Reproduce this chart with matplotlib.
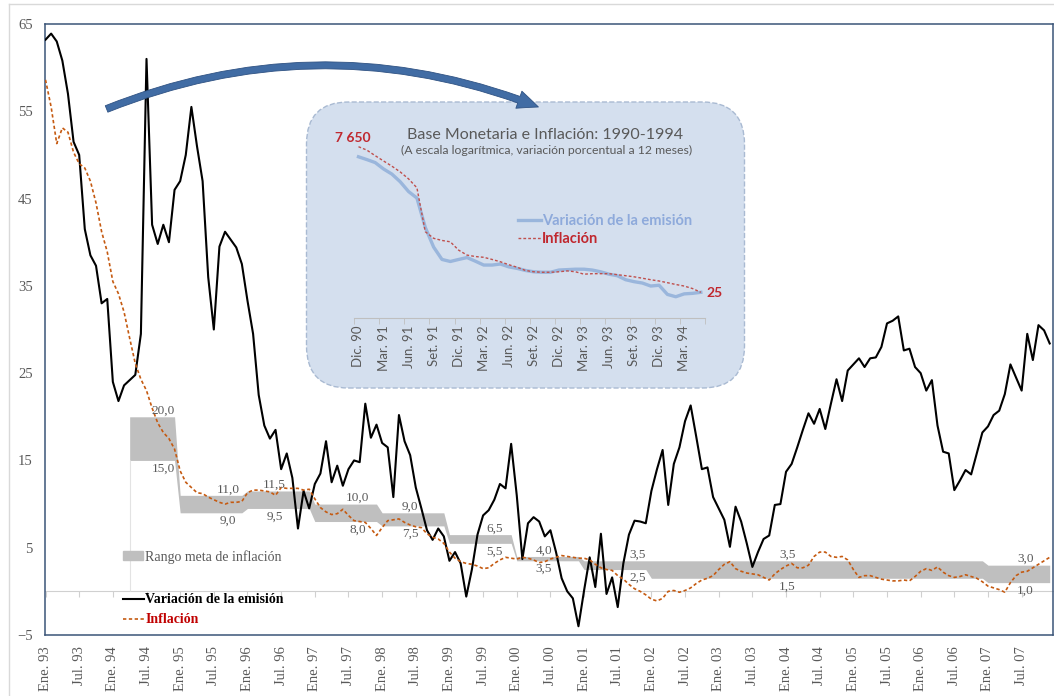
import numpy as np
import matplotlib.pyplot as plt
from matplotlib.patches import FancyBboxPatch, FancyArrowPatch, Patch
from matplotlib.lines import Line2D

plt.rcParams['font.family'] = ['Liberation Serif', 'DejaVu Serif']

# variacion de la emision (%), mensual desde ene. 93
emision = [63.2, 63.9, 63.0, 60.8, 57.0, 51.5, 50.0, 41.5, 38.5, 37.3, 33.0, 33.5,
           24.0, 21.8, 23.6, 24.2, 24.8, 29.5, 61.0, 42.0, 39.8, 42.0, 40.0, 46.0,
           47.0, 50.0, 55.5, 51.0, 47.0, 36.0, 30.0, 39.5, 41.2, 40.3, 39.4, 37.5,
           33.3, 29.5, 22.5, 19.0, 17.5, 18.5, 14.0, 15.8, 13.0, 7.2, 11.5, 9.5,
           12.3, 13.5, 17.2, 12.5, 14.4, 12.1, 14.0, 15.0, 14.8, 21.5, 17.6, 19.1,
           17.0, 16.5, 10.8, 20.2, 17.2, 15.6, 11.9, 9.5, 7.0, 5.9, 7.2, 6.3,
           3.5, 4.5, 3.2, -0.6, 2.5, 6.5, 8.7, 9.3, 10.5, 12.3, 11.8, 16.9,
           11.0, 3.7, 7.8, 8.5, 8.0, 6.3, 7.0, 4.5, 1.5, 0.0, -0.8, -4.0,
           0.1, 3.9, 0.5, 6.6, -0.3, 1.6, -1.8, 3.2, 6.5, 8.1, 8.0, 7.8,
           11.5, 14.0, 16.2, 9.9, 14.6, 16.5, 19.5, 21.3, 17.7, 14.0, 14.2, 10.8,
           9.5, 8.2, 5.1, 9.7, 8.0, 5.5, 2.8, 4.5, 6.0, 6.4, 9.9, 10.0,
           13.7, 14.6, 16.5, 18.5, 20.4, 19.2, 20.9, 18.6, 21.5, 24.3, 21.8, 25.3,
           26.0, 26.7, 25.7, 26.7, 26.8, 28.0, 30.7, 31.0, 31.5, 27.6, 27.8, 25.7,
           25.0, 23.0, 24.2, 19.0, 16.0, 15.8, 11.6, 12.7, 13.9, 13.4, 15.8, 18.2,
           18.9, 20.2, 20.7, 22.6, 26.0, 24.5, 23.0, 29.5, 26.5, 30.5, 29.9, 28.4]

# inflacion (%), mensual desde ene. 93
inflacion = [58.6, 55.5, 51.3, 53.1, 52.6, 50.3, 49.0, 48.5, 47.0, 44.5, 41.2, 38.9,
             35.5, 34.1, 32.0, 29.0, 26.1, 24.3, 23.0, 21.0, 19.3, 18.2, 17.5, 16.3,
             13.8, 12.5, 11.9, 11.3, 11.2, 10.8, 10.5, 10.2, 10.0, 10.2, 10.2, 10.3,
             11.3, 11.6, 11.6, 11.5, 11.4, 11.0, 11.9, 11.8, 11.8, 11.8, 11.6, 11.7,
             10.6, 9.6, 9.1, 8.8, 8.9, 9.4, 8.7, 8.1, 8.0, 7.9, 7.2, 6.4,
             7.3, 8.1, 8.2, 8.3, 7.9, 7.6, 7.4, 7.3, 6.6, 6.2, 6.0, 5.5,
             4.5, 3.8, 3.4, 3.2, 3.1, 2.9, 2.6, 2.7, 3.2, 3.6, 3.9, 3.8,
             3.7, 3.9, 3.8, 3.6, 3.3, 3.4, 3.7, 3.9, 4.1, 4.0, 3.9, 3.8,
             3.8, 3.6, 3.1, 2.7, 2.5, 2.4, 1.8, 1.4, 0.8, 0.3, 0.0, -0.4,
             -0.9, -1.1, -0.8, 0.0, 0.1, -0.1, 0.1, 0.4, 0.9, 1.3, 1.5, 1.8,
             2.5, 3.1, 3.4, 2.6, 2.3, 2.1, 2.0, 1.9, 1.6, 1.3, 2.0, 2.5,
             2.9, 3.2, 2.7, 2.7, 3.0, 4.0, 4.5, 4.5, 4.0, 3.9, 4.0, 3.6,
             2.5, 1.6, 1.8, 1.8, 1.6, 1.4, 1.3, 1.2, 1.2, 1.3, 1.2, 1.7,
             2.3, 2.6, 2.4, 2.8, 2.2, 1.8, 1.6, 1.7, 1.9, 1.7, 1.5, 1.1,
             0.6, 0.4, 0.2, -0.1, 1.0, 1.8, 2.2, 2.3, 2.7, 3.1, 3.5, 3.9]

# rango meta de inflacion por anio
anios_meta = [1994, 1995, 1996, 1997, 1998, 1999, 2000, 2001, 2002, 2003, 2004, 2005, 2006, 2007]
meta_inf = [15.0, 9.0, 9.5, 8.0, 7.5, 5.5, 3.5, 2.5, 1.5, 1.5, 1.5, 1.5, 1.5, 1.0]
meta_sup = [20.0, 11.0, 11.5, 10.0, 9.0, 6.5, 4.0, 3.5, 3.5, 3.5, 3.5, 3.5, 3.5, 3.0]
inicio_meta = 15  # abr. 94

# recuadro 1990-1994 (dic. 90 a may. 94, escala log)
emision_90 = [5150, 4616, 4102, 3190, 2610, 1928, 1312, 1017, 321, 148, 91, 84,
              91, 98, 85, 73, 73, 76, 68, 64, 59, 56, 55, 55,
              60, 61, 62, 62, 60, 56, 51, 48, 41, 38, 36, 32,
              33, 23, 21, 23.5, 24, 25]
inflacion_90 = [7650, 6700, 5380, 4370, 3560, 2840, 2160, 1520, 271, 209, 192, 182,
                131, 108, 102, 99, 91, 83, 74, 67, 59, 56, 55, 55,
                56, 58, 56, 51, 52, 52, 52, 50, 48, 46, 43.5, 41,
                39, 36.5, 34, 32, 29, 25]
etiquetas_90 = ['Dic. 90', 'Mar. 91', 'Jun. 91', 'Set. 91', 'Dic. 91', 'Mar. 92', 'Jun. 92',
                'Set. 92', 'Dic. 92', 'Mar. 93', 'Jun. 93', 'Set. 93', 'Dic. 93', 'Mar. 94']

meses = np.arange(len(emision))
etiquetas_x = []
for a in range(93, 108):
    etiquetas_x += ['Ene. %02d' % (a % 100), 'Jul. %02d' % (a % 100)]

# banda mensual
banda_inf = np.full(len(meses), np.nan)
banda_sup = np.full(len(meses), np.nan)
for a, l, h in zip(anios_meta, meta_inf, meta_sup):
    i0 = max((a - 1993) * 12, inicio_meta)
    i1 = (a - 1993) * 12 + 12
    banda_inf[i0:i1] = l
    banda_sup[i0:i1] = h

gris = '#595959'
fig = plt.figure(figsize=(10.54, 6.96), dpi=100)
ax = fig.add_axes([45.3 / 1054, 61 / 696, 1007.2 / 1054, 611 / 696])

ax.fill_between(meses, banda_inf, banda_sup, color='#bfbfbf', lw=0, zorder=1)
ax.vlines(inicio_meta, 0, meta_inf[0], color='#e3e3e3', lw=0.8, zorder=1)
ax.plot(meses, emision, color='black', lw=1.5, zorder=3)
ax.plot(meses, inflacion, color='#c55a11', lw=1.2, ls=(0, (2, 1.5)), zorder=4)

# etiquetas de la banda
pos_etiq = [21, 32.5, 40.8, 55.6, 65, 80, 88.8, 105.5, 132.2, 174.7]
idx_etiq = [0, 1, 2, 3, 4, 5, 6, 7, 10, 13]
fmt = lambda v: ('%.1f' % v).replace('.', ',')
for x, i in zip(pos_etiq, idx_etiq):
    ax.annotate(fmt(meta_sup[i]), (x, meta_sup[i]), xytext=(0, 0), textcoords='offset pixels',
                ha='center', va='bottom', fontsize=9.5, color=gris, zorder=5)
    ax.annotate(fmt(meta_inf[i]), (x, meta_inf[i]), xytext=(0, -2), textcoords='offset pixels',
                ha='center', va='top', fontsize=9.5, color=gris, zorder=5)

ax.set_xlim(-0.04, 179.5)
ax.set_ylim(-5, 65)
ax.set_yticks([-5, 5, 15, 25, 35, 45, 55, 65])
ax.set_xticks(np.arange(0, 180, 6), etiquetas_x, rotation=90)
ax.tick_params(axis='y', length=0, pad=9, labelsize=10.5, labelcolor=gris)
ax.tick_params(axis='x', length=0, pad=8, labelsize=10.5, labelcolor=gris)
for s in ax.spines.values():
    s.set_color('#3b5578')
    s.set_linewidth(1.1)

# linea del cero con marcas
eje0 = ax.secondary_xaxis(5 / 70)
eje0.set_xticks(np.arange(0, 180, 6))
eje0.tick_params(length=4, color='#d0d0d0', labelbottom=False)
eje0.spines['bottom'].set_color('#d0d0d0')

# leyendas
ley1 = ax.legend(handles=[Patch(color='#bfbfbf', label='Rango meta de inflación')],
                 loc='center left', bbox_to_anchor=(0.077, 0.128), frameon=False,
                 fontsize=10, handlelength=1.45, handleheight=0.6, handletextpad=0.15,
                 borderpad=0, borderaxespad=0)
for t in ley1.get_texts():
    t.set_color(gris)
ax.add_artist(ley1)
h2 = [Line2D([], [], color='black', lw=1.5, label='Variación de la emisión'),
      Line2D([], [], color='#c55a11', lw=1.2, ls=(0, (2, 1.5)), label='Inflación')]
ley2 = ax.legend(handles=h2, loc='center left', bbox_to_anchor=(0.077, 0.041), frameon=False,
                 prop={'weight': 'bold', 'size': 10}, handlelength=1.5, handletextpad=0.1,
                 labelspacing=0.5, borderpad=0, borderaxespad=0)
ley2.get_texts()[1].set_color('#c00000')

# recuadro redondeado
caja = FancyBboxPatch((3.065, 3.08), 4.38, 2.86, boxstyle='round,pad=0,rounding_size=0.42',
                      transform=fig.dpi_scale_trans, fc='#d4dfee', ec='#a9bad2', ls='--', lw=1,
                      clip_on=False, zorder=10)
ax.add_patch(caja)

ax_in = fig.add_axes([354.3 / 1054, (696 - 318.3) / 696, 350.7 / 1054, 178.4 / 696])
ax_in.patch.set_visible(False)
m90 = np.arange(len(emision_90))
ax_in.plot(m90, emision_90, color='#9ab6dc', lw=2.4, label='Variación de la emisión')
ax_in.plot(m90, inflacion_90, color='#c0504d', lw=1.0, ls=(0, (2, 1.5)), label='Inflación')
ax_in.set_yscale('log')
ax_in.set_ylim(9, 10000)
ax_in.set_xlim(-0.5, len(m90) - 0.5)
ax_in.set_yticks([])
ax_in.minorticks_off()
ax_in.set_xticks(np.arange(0, 42, 3), etiquetas_90, rotation=90, family='Lato')
ax_in.set_xticks(np.arange(-0.5, 42, 3), minor=True)
ax_in.tick_params(axis='x', which='major', length=0, pad=5, labelsize=9.5, labelcolor=gris)
ax_in.tick_params(axis='x', which='minor', length=4, color='#bfbfbf')
for k in ['left', 'right', 'top']:
    ax_in.spines[k].set_visible(False)
ax_in.spines['bottom'].set_color('#bfbfbf')

rojo = '#c0282f'
ax_in.annotate('{:,.0f}'.format(inflacion_90[0]).replace(',', ' '), (0, inflacion_90[0]),
               xytext=(-6, 9), textcoords='offset pixels', ha='center', va='center',
               family='Lato', weight='bold', fontsize=10, color=rojo)
ax_in.annotate('{:.0f}'.format(inflacion_90[-1]), (m90[-1], inflacion_90[-1]),
               xytext=(14, -1), textcoords='offset pixels', ha='center', va='center',
               family='Lato', weight='bold', fontsize=10, color=rojo)
ax_in.text(0.545, 1.03, 'Base Monetaria e Inflación: 1990-1994', transform=ax_in.transAxes,
           ha='center', va='center', family='Lato', fontsize=11.5, color=gris)
ax_in.text(0.548, 0.94, '(A escala logarítmica, variación porcentual a 12 meses)',
           transform=ax_in.transAxes, ha='center', va='center', family='Lato', fontsize=8.8,
           color=gris)
ley3 = ax_in.legend(loc='center left', bbox_to_anchor=(0.467, 0.495), frameon=False,
                    prop={'family': 'Lato', 'weight': 'bold', 'size': 10.5}, handlelength=1.6,
                    handletextpad=0.05, labelspacing=0.3, borderpad=0, borderaxespad=0)
ley3.get_texts()[0].set_color('#8eaadb')
ley3.get_texts()[1].set_color(rojo)

# flecha curva
flecha = FancyArrowPatch((104 / 1054, 1 - 110 / 696), (541 / 1054, 1 - 108 / 696),
                         transform=fig.transFigure, connectionstyle='arc3,rad=-0.2',
                         arrowstyle='simple,head_length=15,head_width=13,tail_width=5',
                         mutation_scale=1, fc='#416ca4', ec='#2f5283', lw=0.6, zorder=5)
fig.add_artist(flecha)

# borde exterior
fig.add_artist(Line2D([9 / 1054, 1], [1 - 4 / 696, 1 - 4 / 696], color='#d9d9d9', lw=1,
                      transform=fig.transFigure))
fig.add_artist(Line2D([9 / 1054, 9 / 1054], [0, 1 - 4 / 696], color='#d9d9d9', lw=1,
                      transform=fig.transFigure))

fig.savefig('out.png', dpi=100)
